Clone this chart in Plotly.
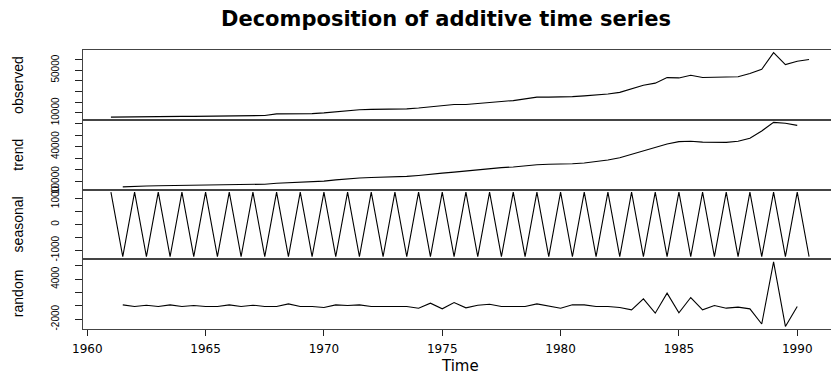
import plotly.graph_objects as go
from plotly.subplots import make_subplots

# ---------------- data (semi-annual series) ----------------
time = [1961.0, 1961.5, 1962.0, 1962.5, 1963.0, 1963.5, 1964.0, 1964.5, 1965.0, 1965.5,
        1966.0, 1966.5, 1967.0, 1967.5, 1968.0, 1968.5, 1969.0, 1969.5, 1970.0, 1970.5,
        1971.0, 1971.5, 1972.0, 1972.5, 1973.0, 1973.5, 1974.0, 1974.5, 1975.0, 1975.5,
        1976.0, 1976.5, 1977.0, 1977.5, 1978.0, 1978.5, 1979.0, 1979.5, 1980.0, 1980.5,
        1981.0, 1981.5, 1982.0, 1982.5, 1983.0, 1983.5, 1984.0, 1984.5, 1985.0, 1985.5,
        1986.0, 1986.5, 1987.0, 1987.5, 1988.0, 1988.5, 1989.0, 1989.5, 1990.0, 1990.5]

observed = [5980, 6200, 6500, 6630, 6650, 6700, 6720, 6750, 6780, 6800,
            6850, 7000, 7300, 7570, 9070, 9100, 9150, 9300, 10000, 11000,
            12300, 12900, 13300, 13400, 13500, 13700, 14500, 15800, 16900, 17850,
            17900, 19000, 20300, 20700, 21500, 23200, 24700, 24700, 24700, 25200,
            25900, 26500, 27600, 29200, 32200, 35900, 37800, 43000, 42700, 45200,
            43100, 43100, 43100, 43800, 46800, 50800, 66400, 55200, 58300, 59900]

# trend and random run from 1961.5 to 1990.0
trend_time = time[1:-1]
trend = [5460, 6100, 6310, 6400, 6500, 6600, 6700, 6800, 6850,
         6950, 7100, 7350, 7800, 8600, 9140, 9400, 9700, 10400, 11500,
         12500, 13100, 13500, 13700, 14000, 14500, 15300, 16500, 17300, 18200,
         19300, 20400, 21200, 22000, 22600, 23600, 24500, 24900, 25000, 25300,
         26000, 27000, 28500, 30500, 33500, 36500, 39200, 42300, 44300, 44600,
         43900, 43700, 43700, 44600, 47200, 53500, 60900, 60100, 58300]

seasonal = [1250, -1250, 1250, -1250, 1250, -1250, 1250, -1250, 1250, -1250,
            1250, -1250, 1250, -1250, 1250, -1250, 1250, -1250, 1250, -1250,
            1250, -1250, 1250, -1250, 1250, -1250, 1250, -1250, 1250, -1250,
            1250, -1250, 1250, -1250, 1250, -1250, 1250, -1250, 1250, -1250,
            1250, -1250, 1250, -1250, 1250, -1250, 1250, -1250, 1250, -1250,
            1250, -1250, 1250, -1250, 1250, -1250, 1250, -1250, 1250, -1250]

random_time = time[1:-1]
random = [150, -100, 100, -100, 150, -100, 50, -100, -100,
          150, -100, 100, -100, -100, 300, -100, -100, -250, 150,
          50, 150, -100, -100, -50, -100, -350, 400, -450, 500,
          -300, 100, 250, -100, -100, -100, 300, 0, -350, 150,
          150, -100, -100, -250, -600, 1050, -1100, 1900, -1050, 1250,
          -600, 50, -350, -200, -450, -2730, 6610, -3090, -100]

x_tick_vals = [1960, 1965, 1970, 1975, 1980, 1985, 1990]

panel_names = ["observed", "trend", "seasonal", "random"]
obs_ticks = [10000, 20000, 30000, 40000, 50000, 60000]
obs_labels = ["10000", "", "", "", "50000", ""]
trend_ticks = [10000, 20000, 30000, 40000, 50000, 60000]
trend_labels = ["10000", "", "", "40000", "", ""]
seas_ticks = [-1000, -500, 0, 500, 1000]
seas_labels = ["-1000", "", "0", "", "1000"]
rand_ticks = [-2000, 0, 2000, 4000, 6000]
rand_labels = ["-2000", "", "", "4000", ""]

# ---------------- figure ----------------
W, H = 831, 375
ML, MT, MB = 83, 50, 46
plot_w = W - ML

series = [(time, observed, obs_ticks, obs_labels),
          (trend_time, trend, trend_ticks, trend_labels),
          (time, seasonal, seas_ticks, seas_labels),
          (random_time, random, rand_ticks, rand_labels)]

fig = make_subplots(rows=4, cols=1, shared_xaxes=True, vertical_spacing=0)

for i, (tx, vals, tv, tt) in enumerate(series):
    fig.add_trace(go.Scatter(x=tx, y=vals, mode="lines",
                             line=dict(color="black", width=1.1),
                             showlegend=False, hoverinfo="skip"),
                  row=i + 1, col=1)
    lo, hi = min(vals), max(vals)
    ext = 0.04 * (hi - lo)
    fig.update_yaxes(row=i + 1, col=1, range=[lo - ext, hi + ext],
                     tickmode="array", tickvals=tv, ticktext=tt,
                     ticks="outside", ticklen=7, tickcolor="#222", tickwidth=1,
                     tickangle=-90, ticklabelstandoff=12,
                     tickfont=dict(family="Liberation Sans, Arial", size=10, color="black"),
                     showline=True, linecolor="#444", linewidth=1.3, mirror=False,
                     showgrid=False, zeroline=False)

# x scale as R: data range extended by 4%, picture cropped at the right
t_lo, t_hi = min(time), max(time)
x_lo = t_lo - 0.04 * (t_hi - t_lo)
x_hi_full = t_hi + 0.04 * (t_hi - t_lo)
px_per_year = 754 / (x_hi_full - x_lo)
x_hi = x_lo + plot_w / px_per_year

for r in range(1, 5):
    fig.update_xaxes(row=r, col=1, range=[x_lo, x_hi], showline=True, mirror=True,
                     linecolor="#444", linewidth=1.3, showgrid=False, zeroline=False,
                     tickmode="array", tickvals=x_tick_vals,
                     ticks="outside" if r == 4 else "", ticklen=6, tickcolor="#222",
                     showticklabels=(r == 4), ticklabelstandoff=2,
                     tickfont=dict(family="DejaVu Sans", size=12, color="black"))

annotations = []
for i, name in enumerate(panel_names):
    y0 = 1 - (i + 1) * 0.25
    annotations.append(dict(text=name, xref="paper", yref="paper",
                            x=(18 - ML) / plot_w, y=y0 + 0.125,
                            xanchor="center", yanchor="middle", textangle=-90,
                            showarrow=False,
                            font=dict(family="Liberation Sans, Arial", size=14, color="black")))
annotations.append(dict(text="Time", xref="paper", yref="paper",
                        x=(460 - ML) / plot_w, y=(329 - 365.5) / (H - MT - MB),
                        xanchor="center", yanchor="middle", showarrow=False,
                        font=dict(family="DejaVu Sans", size=15, color="black")))

fig.update_layout(
    width=W, height=H,
    margin=dict(l=ML, r=0, t=MT, b=MB),
    paper_bgcolor="white", plot_bgcolor="white",
    title=dict(text="<b>Decomposition of additive time series</b>",
               xref="container", yref="container", x=446 / W, y=1 - 19 / H,
               xanchor="center", yanchor="middle",
               font=dict(family="DejaVu Sans", size=21, color="black")),
    annotations=annotations,
    showlegend=False,
)

fig.write_html("out.html")
